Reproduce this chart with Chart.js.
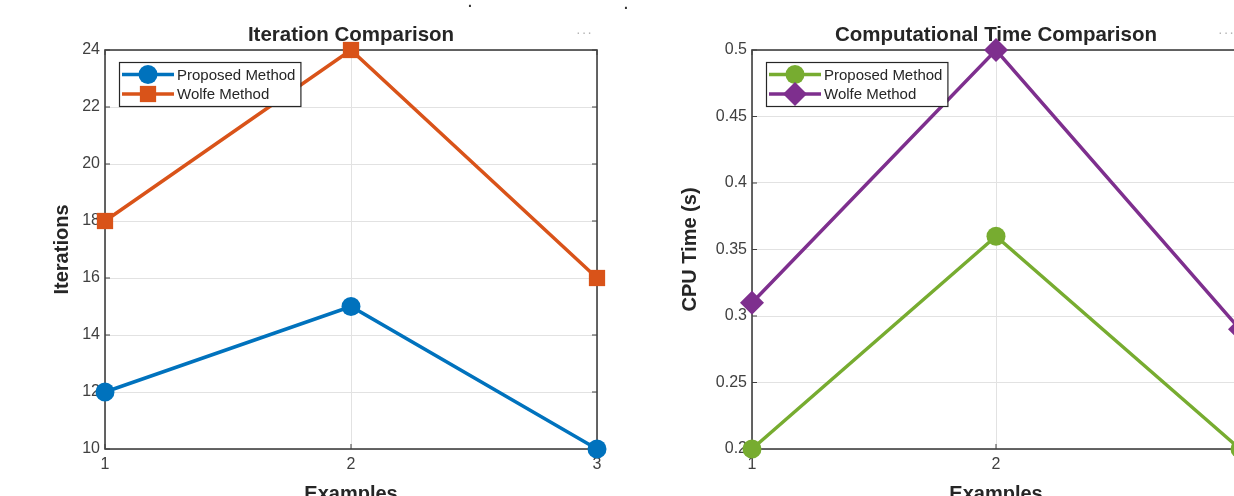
<!DOCTYPE html>
<html><head><meta charset="utf-8">
<script src="https://cdn.jsdelivr.net/npm/chart.js@4.4.1/dist/chart.umd.min.js"></script>
<style>
html,body{margin:0;padding:0;background:#fff;overflow:hidden;width:1234px;height:496px;}
#wrap{position:relative;width:1234px;height:496px;overflow:hidden;background:#fff;}
canvas{position:absolute;top:0;}
#chart1{left:0;}
#chart2{left:640px;}
.tb{position:absolute;font:14px "Liberation Sans",Arial,sans-serif;color:#b5b5b5;letter-spacing:1px;}
.dot{position:absolute;font:bold 14px "Liberation Sans",Arial,sans-serif;color:#333;}
</style></head><body>
<div id="wrap">
<canvas id="chart1" width="617" height="520"></canvas>
<canvas id="chart2" width="620" height="520"></canvas>
<div class="tb" style="left:576px;top:24px;">···</div>
<div class="tb" style="left:1218px;top:24px;">···</div>
<div class="dot" style="left:468px;top:-6px;">.</div>
<div class="dot" style="left:624px;top:-4px;">.</div>
</div>
<script>
// ---- data ----
const examples = ['1', '2', '3'];
const seriesNames = ['Proposed Method', 'Wolfe Method'];
const iterProposed = [12, 15, 10];
const iterWolfe = [18, 24, 16];
const timeProposed = [0.20, 0.36, 0.20];
const timeWolfe = [0.31, 0.50, 0.29];
const iterTicks = [10, 12, 14, 16, 18, 20, 22, 24];
const timeTicks = [0.2, 0.25, 0.3, 0.35, 0.4, 0.45, 0.5];
const timeTickLabels = ['0.2', '0.25', '0.3', '0.35', '0.4', '0.45', '0.5'];

const FONT = '"Liberation Sans", Arial, sans-serif';
const AXIS_COLOR = '#404040';

function drawMarker(ctx, style, x, y, r, color) {
  ctx.save();
  ctx.fillStyle = color;
  ctx.beginPath();
  if (style === 'circle') {
    ctx.arc(x, y, r, 0, Math.PI * 2);
  } else if (style === 'rect') {
    const s = r * Math.SQRT1_2;
    ctx.rect(x - s, y - s, 2 * s, 2 * s);
  } else if (style === 'rectRot') {
    ctx.moveTo(x, y - r); ctx.lineTo(x + r, y); ctx.lineTo(x, y + r); ctx.lineTo(x - r, y); ctx.closePath();
  }
  ctx.fill();
  ctx.restore();
}

const framePlugin = {
  id: 'frame',
  beforeDatasetsDraw(chart) {
    const { ctx, chartArea: a, scales } = chart;
    ctx.save();
    ctx.strokeStyle = AXIS_COLOR;
    ctx.lineWidth = 1.6;
    ctx.strokeRect(a.left, a.top, a.right - a.left, a.bottom - a.top);
    ctx.lineWidth = 1;
    const tl = 5;
    ctx.beginPath();
    scales.y.ticks.forEach(t => {
      const y = scales.y.getPixelForValue(t.value);
      ctx.moveTo(a.left, y); ctx.lineTo(a.left + tl, y);
      ctx.moveTo(a.right, y); ctx.lineTo(a.right - tl, y);
    });
    scales.x.ticks.forEach((t, i) => {
      const x = scales.x.getPixelForTick(i);
      ctx.moveTo(x, a.bottom); ctx.lineTo(x, a.bottom - tl);
      ctx.moveTo(x, a.top); ctx.lineTo(x, a.top + tl);
    });
    ctx.stroke();
    ctx.restore();
  }
};

const legendPlugin = {
  id: 'boxLegend',
  afterDatasetsDraw(chart) {
    const { ctx, chartArea: a } = chart;
    const ds = chart.data.datasets;
    ctx.save();
    ctx.font = '15px ' + FONT;
    const textW = Math.max(...ds.map(d => ctx.measureText(d.label).width));
    const x0 = a.left + 14, y0 = a.top + 12;
    const sample = 55, rowH = 19.5, firstRow = 12.5;
    const w = sample + 3 + textW + 5, h = 44;
    ctx.fillStyle = '#fff';
    ctx.fillRect(x0, y0, w, h);
    ctx.strokeStyle = '#262626';
    ctx.lineWidth = 1.2;
    ctx.strokeRect(x0 + 0.5, y0 + 0.5, w, h);
    ds.forEach((d, i) => {
      const cy = y0 + firstRow + i * rowH;
      ctx.strokeStyle = d.borderColor;
      ctx.lineWidth = d.borderWidth;
      ctx.beginPath();
      ctx.moveTo(x0 + 3, cy); ctx.lineTo(x0 + sample, cy);
      ctx.stroke();
      drawMarker(ctx, d.pointStyle, x0 + 3 + (sample - 3) / 2, cy, d.pointRadius, d.pointBackgroundColor);
      ctx.fillStyle = '#262626';
      ctx.textBaseline = 'middle';
      ctx.textAlign = 'left';
      ctx.fillText(d.label, x0 + sample + 3, cy + 1);
    });
    ctx.restore();
  }
};

function makeDataset(label, values, color, style, radius) {
  return {
    label: label,
    data: values,
    borderColor: color,
    backgroundColor: color,
    pointBackgroundColor: color,
    pointBorderColor: color,
    pointBorderWidth: 0,
    pointStyle: style,
    pointRadius: radius,
    pointHoverRadius: radius,
    borderWidth: 3.5,
    tension: 0,
    clip: false
  };
}

function makeChart(canvasId, cfg) {
  return new Chart(document.getElementById(canvasId), {
    type: 'line',
    data: { labels: examples, datasets: cfg.datasets },
    options: {
      responsive: false,
      animation: false,
      events: [],
      layout: { padding: { left: 0, right: 20, top: 0, bottom: 0 } },
      plugins: {
        legend: { display: false },
        tooltip: { enabled: false },
        title: {
          display: true, text: cfg.title, fullSize: false,
          color: '#262626',
          font: { family: FONT, size: 20.5, weight: 'bold' },
          padding: { top: 23, bottom: 2.4 }
        }
      },
      scales: {
        x: {
          type: 'category', offset: false,
          grid: { color: '#e2e2e2', drawTicks: false, lineWidth: 1 },
          border: { display: false },
          ticks: { color: '#404040', font: { family: FONT, size: 16 }, padding: 6, maxRotation: 0 },
          title: { display: true, text: 'Examples', color: '#262626',
                   font: { family: FONT, size: 20, weight: 'bold' }, padding: { top: 0, bottom: 14 } },
          afterFit: s => { s.height = 71; }
        },
        y: {
          type: 'linear', min: cfg.yTicks[0], max: cfg.yTicks[cfg.yTicks.length - 1],
          afterBuildTicks: s => { s.ticks = cfg.yTicks.map(v => ({ value: v })); },
          grid: { color: '#e2e2e2', drawTicks: false, lineWidth: 1 },
          border: { display: false },
          ticks: { color: '#404040', font: { family: FONT, size: 16 }, padding: 5,
                   callback: (v) => { const i = cfg.yTicks.indexOf(v); return i >= 0 ? cfg.yLabels[i] : ''; } },
          title: { display: true, text: cfg.yTitle, color: '#262626',
                   font: { family: FONT, size: 20, weight: 'bold' }, padding: { top: cfg.yTitlePad, bottom: 0 } },
          afterFit: s => { s.width = cfg.yWidth; }
        }
      }
    },
    plugins: [framePlugin, legendPlugin]
  });
}

makeChart('chart1', {
  title: 'Iteration Comparison',
  yTitle: 'Iterations',
  yTicks: iterTicks,
  yLabels: iterTicks.map(String),
  yWidth: 105,
  yTitlePad: 50,
  datasets: [
    makeDataset(seriesNames[0], iterProposed, '#0072BD', 'circle', 9.5),
    makeDataset(seriesNames[1], iterWolfe, '#D95319', 'rect', 11.5)
  ]
});

makeChart('chart2', {
  title: 'Computational Time Comparison',
  yTitle: 'CPU Time (s)',
  yTicks: timeTicks,
  yLabels: timeTickLabels,
  yWidth: 112,
  yTitlePad: 38,
  datasets: [
    makeDataset(seriesNames[0], timeProposed, '#77AC30', 'circle', 9.5),
    makeDataset(seriesNames[1], timeWolfe, '#7E2F8E', 'rectRot', 12)
  ]
});
</script>
</body></html>
